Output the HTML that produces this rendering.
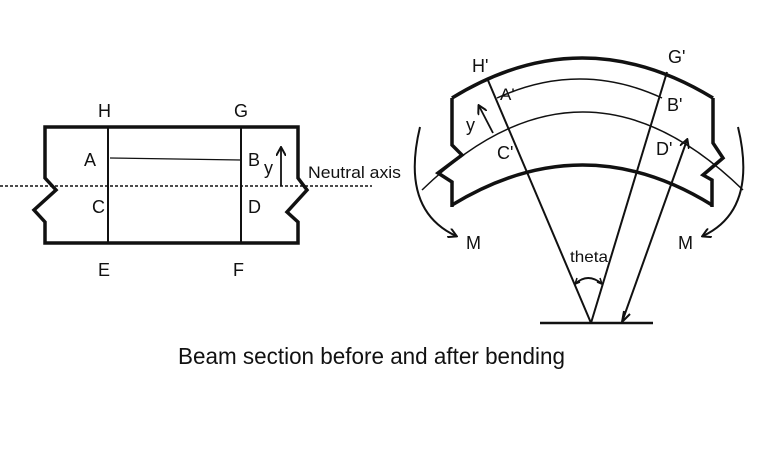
<!DOCTYPE html>
<html><head><meta charset="utf-8"><style>
html,body{margin:0;padding:0;background:#fff;}
svg{display:block}
text{font-family:"Liberation Sans",sans-serif;fill:#111}
</style></head><body>
<svg width="765" height="449" viewBox="0 0 765 449" xmlns="http://www.w3.org/2000/svg">
<defs>
<marker id="ah" markerWidth="10" markerHeight="10" refX="8" refY="5" orient="auto" markerUnits="userSpaceOnUse">
<path d="M0,0 L9,5 L0,10" fill="none" stroke="#111" stroke-width="2"/>
</marker>
</defs>
<!-- Left beam -->
<g fill="none" stroke="#111">
<path d="M45,178 L45,127 L298,127 L298,178 L307,190 L287,212 L298,222 L298,243 L45,243 L45,222 L34,210 L56,190 Z" stroke-width="3.5" stroke-linejoin="miter"/>
<line x1="108" y1="127" x2="108" y2="243" stroke-width="2"/>
<line x1="241" y1="127" x2="241" y2="243" stroke-width="2"/>
<line x1="110" y1="158" x2="241" y2="160" stroke-width="1.3"/>
<line x1="0" y1="186" x2="372" y2="186" stroke-width="1.5" stroke-dasharray="3,2"/>
<line x1="281" y1="186" x2="281" y2="148" stroke-width="1.8" marker-end="url(#ah)"/>
</g>
<g font-size="18">
<text x="98" y="117">H</text>
<text x="234" y="117">G</text>
<text x="84" y="166">A</text>
<text x="248" y="166">B</text>
<text x="264" y="174">y</text>
<text x="92" y="213">C</text>
<text x="248" y="213">D</text>
<text x="98" y="276">E</text>
<text x="233" y="276">F</text>
<text x="308" y="178" font-size="17" textLength="93" lengthAdjust="spacingAndGlyphs">Neutral axis</text>
</g>
<!-- Right beam -->
<g fill="none" stroke="#111">
<path d="M452,98 Q582,18 713,98" stroke-width="3.5"/>
<path d="M452,98 L452,145 L462,155 L438,173 L452,182 L452,207" stroke-width="3.5"/>
<path d="M713,98 L713,143 L723,158 L703,175 L712,180 L712,207" stroke-width="3.5"/>
<path d="M452,205 Q583,125 712,205" stroke-width="3.5"/>
<path d="M497,98 Q580,60 662,98" stroke-width="1.5"/>
<path d="M422,190 Q583,34 743,190" stroke-width="1.5"/>
<line x1="487" y1="78" x2="591" y2="323" stroke-width="2"/>
<line x1="667" y1="72" x2="591" y2="323" stroke-width="2"/>
<line x1="540" y1="323" x2="653" y2="323" stroke-width="2.5"/>
<line x1="655" y1="200" x2="687" y2="140" stroke-width="0"/>
<line x1="622" y1="322" x2="687" y2="140" stroke-width="2" marker-end="url(#ah)" marker-start="url(#ahs)"/>
<path d="M622,322 l2,-11 M622,322 l8,-8" stroke-width="2"/>
<line x1="493" y1="133" x2="479" y2="106" stroke-width="1.8" marker-end="url(#ah)"/>
<path d="M420,127 Q400,210 456,236" stroke-width="2" marker-end="url(#ah)"/>
<path d="M738,127 Q758,210 703,236" stroke-width="2" marker-end="url(#ah)"/>
<path d="M575,284 Q588,272 602,284" stroke-width="2"/>
<path d="M575,284 l2,-6 M575,284 l5,-2 M602,284 l-2,-6 M602,284 l-5,-2" stroke-width="1.5"/>
</g>
<g font-size="18">
<text x="472" y="72">H'</text>
<text x="668" y="63">G'</text>
<text x="500" y="100" font-size="17">A'</text>
<text x="667" y="111">B'</text>
<text x="466" y="131">y</text>
<text x="497" y="159">C'</text>
<text x="656" y="155">D'</text>
<text x="466" y="249">M</text>
<text x="678" y="249">M</text>
<text x="570" y="262" font-size="16" textLength="38" lengthAdjust="spacingAndGlyphs">theta</text>
</g>
<text x="178" y="364" font-size="23" textLength="387" lengthAdjust="spacingAndGlyphs">Beam section before and after bending</text>
</svg>
</body></html>
